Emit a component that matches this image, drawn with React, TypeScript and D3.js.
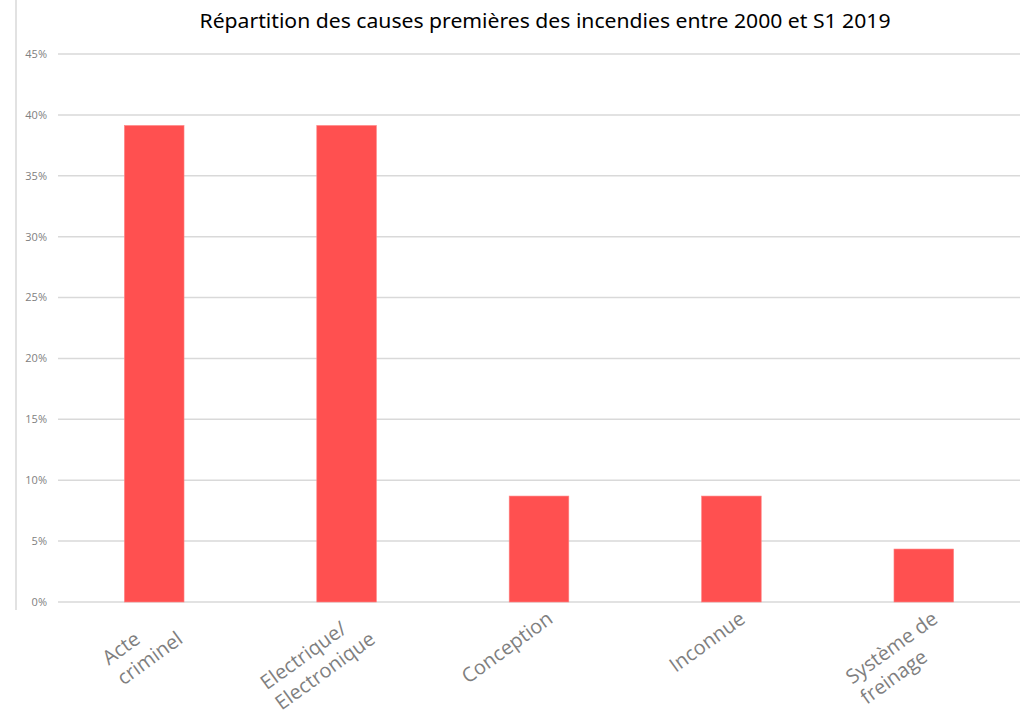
import React from "react";
import * as d3 from "d3";

const title = "Répartition des causes premières des incendies entre 2000 et S1 2019";
const categories = ["Acte\ncriminel", "Electrique/\nElectronique", "Conception", "Inconnue", "Système de\nfreinage"];
const values = [0.3913, 0.3913, 0.087, 0.087, 0.0435];
const yTicks = [0, 0.05, 0.1, 0.15, 0.2, 0.25, 0.3, 0.35, 0.4, 0.45];

const W = 1024;
const H = 720;
const plot = { left: 58, right: 1020, top: 54, bottom: 602 };
const labelFont = "Open Sans";
const labelSize = 20;
const lineH = 25;
const angle = -36;

function measure(text: string, font: string): number {
  const c = document.createElement("canvas");
  const ctx = c.getContext("2d");
  if (!ctx) return text.length * 10;
  ctx.font = font;
  return ctx.measureText(text).width;
}

export default function App() {
  const x = d3
    .scaleBand<string>()
    .domain(categories)
    .range([plot.left, plot.right])
    .paddingInner(0.69)
    .paddingOuter(0.345);
  const y = d3.scaleLinear().domain([0, 0.45]).range([plot.bottom, plot.top]);
  const fmt = d3.format(".0%");

  return (
    <svg
      width={W}
      height={H}
      style={{ position: "absolute", left: 0, top: 0, background: "#fff" }}
    >
      <rect x={0} y={0} width={W} height={H} fill="#fff" />
      <line x1={16} x2={16} y1={0} y2={610} stroke="#d9d9d9" strokeWidth={1.5} />
      <text
        x={545}
        y={28}
        textAnchor="middle"
        fontFamily="Noto Sans, Open Sans, sans-serif"
        fontSize={20}
        fill="#000"
        textLength={691}
        lengthAdjust="spacingAndGlyphs"
      >
        {title}
      </text>
      {yTicks.map((t) => (
        <g key={t}>
          <line
            x1={plot.left}
            x2={plot.right}
            y1={y(t)}
            y2={y(t)}
            stroke="#d9d9d9"
            strokeWidth={1.5}
          />
          <text
            x={47}
            y={y(t)}
            dy="0.35em"
            textAnchor="end"
            fontFamily="Open Sans, sans-serif"
            fontSize={11}
            fill="#808080"
          >
            {fmt(t)}
          </text>
        </g>
      ))}
      {categories.map((c, i) => (
        <rect
          key={c}
          x={x(c)}
          y={y(values[i])}
          width={x.bandwidth()}
          height={y(0) - y(values[i])}
          fill="#ff5050"
          stroke="#ff8585"
          strokeWidth={0.6}
        />
      ))}
      {categories.map((c) => {
        const lines = c.split("\n");
        const widths = lines.map((l) => measure(l, `${labelSize}px "${labelFont}"`));
        const maxW = Math.max(...widths);
        const cx = (x(c) as number) + x.bandwidth() / 2;
        return (
          <g key={"l" + c} transform={`translate(${cx + 6},${609}) rotate(${angle})`}>
            {lines.map((l, j) => (
              <text
                key={j}
                x={-maxW}
                y={labelSize * 0.78 + j * lineH}
                fontFamily={`${labelFont}, sans-serif`}
                fontSize={labelSize}
                fill="#7f7f7f"
              >
                {l}
              </text>
            ))}
          </g>
        );
      })}
    </svg>
  );
}
